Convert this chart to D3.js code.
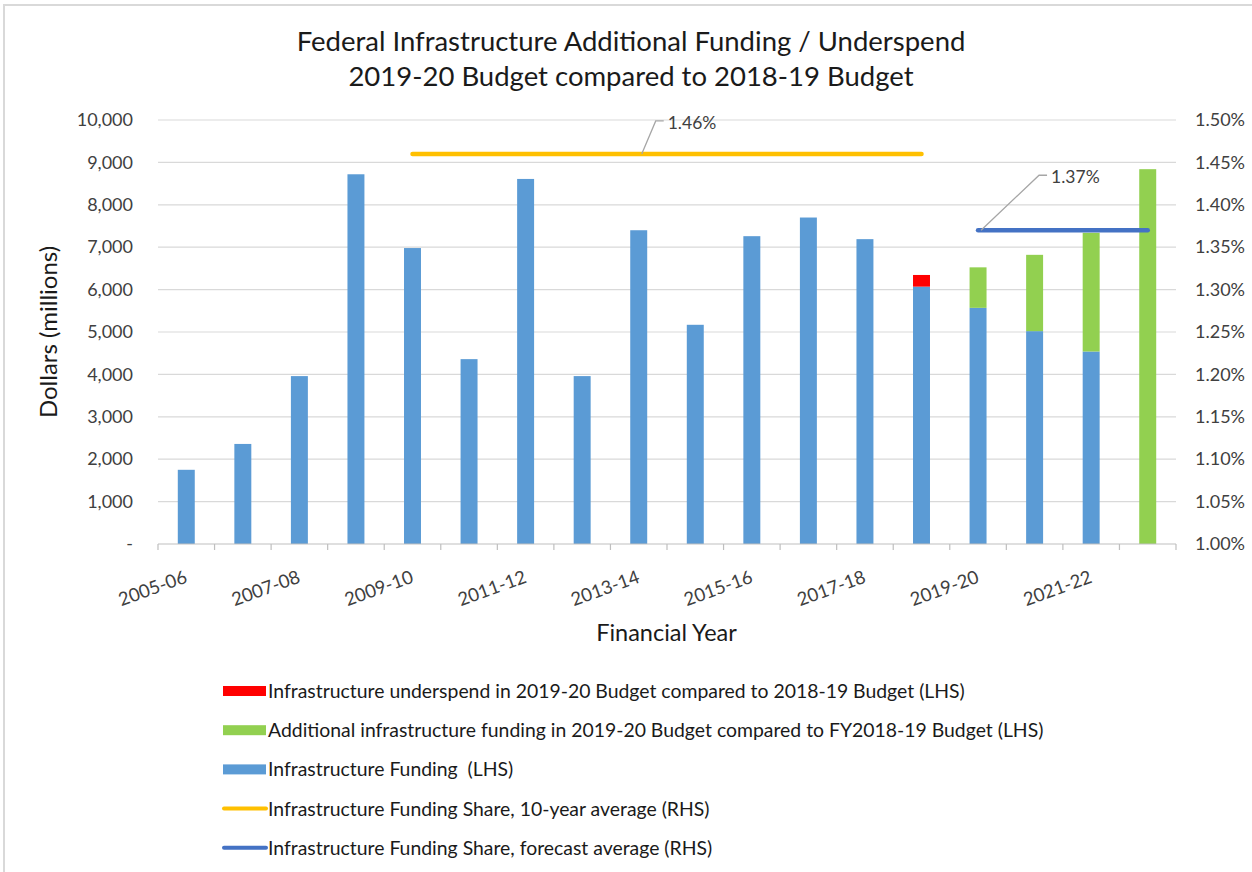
<!DOCTYPE html>
<html>
<head>
<meta charset="utf-8">
<script src="https://cdnjs.cloudflare.com/ajax/libs/d3/7.8.5/d3.min.js"></script>
<style>
  html, body { margin: 0; padding: 0; background: #fff; }
  svg { display: block; font-family: Lato, "Open Sans", sans-serif; }
  text { white-space: pre; }
</style>
</head>
<body>
<svg id="chart" width="1252" height="872"></svg>
<script>
// ---- Data ----
const categories = ["2005-06","2006-07","2007-08","2008-09","2009-10","2010-11","2011-12","2012-13","2013-14","2014-15","2015-16","2016-17","2017-18","2018-19","2019-20","2020-21","2021-22","2022-23"];
const fundingLHS    = [1750, 2360, 3960, 8720, 6980, 4360, 8610, 3960, 7400, 5170, 7260, 7700, 7190, 6070, 5570, 5020, 4540, 0];
const additionalLHS = [0, 0, 0, 0, 0, 0, 0, 0, 0, 0, 0, 0, 0, 0, 955, 1800, 2800, 8840];
const underspendLHS = [0, 0, 0, 0, 0, 0, 0, 0, 0, 0, 0, 0, 0, 275, 0, 0, 0, 0];
const shareTenYearRHS  = [null, null, null, null, 1.46, 1.46, 1.46, 1.46, 1.46, 1.46, 1.46, 1.46, 1.46, 1.46, null, null, null, null];
const shareForecastRHS = [null, null, null, null, null, null, null, null, null, null, null, null, null, null, 1.37, 1.37, 1.37, 1.37];
const xTickLabels = ["2005-06","2007-08","2009-10","2011-12","2013-14","2015-16","2017-18","2019-20","2021-22"];
const leftTicks  = [0, 1000, 2000, 3000, 4000, 5000, 6000, 7000, 8000, 9000, 10000];
const rightTicks = [1.00, 1.05, 1.10, 1.15, 1.20, 1.25, 1.30, 1.35, 1.40, 1.45, 1.50];
const titleLines = ["Federal Infrastructure Additional Funding / Underspend", "2019-20 Budget compared to 2018-19 Budget"];
const legendItems = [
  {label: "Infrastructure underspend in 2019-20 Budget compared to 2018-19 Budget (LHS)", type: "rect", color: "#FF0000"},
  {label: "Additional infrastructure funding in 2019-20 Budget compared to FY2018-19 Budget (LHS)", type: "rect", color: "#92D050"},
  {label: "Infrastructure Funding  (LHS)", type: "rect", color: "#5B9BD5"},
  {label: "Infrastructure Funding Share, 10-year average (RHS)", type: "line", color: "#FFC000"},
  {label: "Infrastructure Funding Share, forecast average (RHS)", type: "line", color: "#4472C4"}
];
const labelTenYear = {text: "1.46%", at: "2013-14", value: 1.46};
const labelForecast = {text: "1.37%", at: "2019-20", value: 1.37};

// ---- Layout ----
const svg = d3.select("#chart");
const plot = {left: 158, right: 1176, top: 120, bottom: 544};
const textColor = "#404040";

// chart border (top & left visible)
svg.append("rect").attr("x", 4).attr("y", 5).attr("width", 1300).attr("height", 900)
  .attr("fill", "none").attr("stroke", "#d9d9d9").attr("stroke-width", 2);

const x = d3.scaleBand().domain(categories).range([plot.left, plot.right]).paddingInner(0.7).paddingOuter(0.35);
const xEdge = d3.scaleBand().domain(categories).range([plot.left, plot.right]);
const yL = d3.scaleLinear().domain([0, 10000]).range([plot.bottom, plot.top]);
const yR = d3.scaleLinear().domain([1.00, 1.50]).range([plot.bottom, plot.top]);

// Title
svg.append("g").selectAll("text").data(titleLines).join("text")
  .attr("x", 631).attr("y", (d, i) => 51 + i * 35)
  .attr("text-anchor", "middle").attr("font-size", 27.5).attr("fill", "#1a1a1a").text(d => d);

// Gridlines
svg.append("g").selectAll("line").data(leftTicks.filter(d => d > 0)).join("line")
  .attr("x1", plot.left).attr("x2", plot.right)
  .attr("y1", d => yL(d)).attr("y2", d => yL(d))
  .attr("stroke", "#d9d9d9").attr("stroke-width", 1.2);

// Left axis
const leftAxis = d3.axisLeft(yL).tickValues(leftTicks).tickSize(0).tickPadding(25)
  .tickFormat(d => d === 0 ? "-" : d3.format(",")(d));
const gL = svg.append("g").attr("transform", `translate(${plot.left},0)`).call(leftAxis);
gL.select(".domain").remove();
gL.selectAll("text").attr("font-size", 18).attr("fill", textColor).attr("font-family", "Lato");

// Right axis
const rightAxis = d3.axisRight(yR).tickValues(rightTicks).tickSize(0).tickPadding(19)
  .tickFormat(d => d3.format(".2f")(d) + "%");
const gR = svg.append("g").attr("transform", `translate(${plot.right},0)`).call(rightAxis);
gR.select(".domain").remove();
gR.selectAll("text").attr("font-size", 18).attr("fill", textColor).attr("font-family", "Lato");

// Bars
const rows = categories.map((c, i) => ({c, f: fundingLHS[i], a: additionalLHS[i], u: underspendLHS[i]}));
const bars = svg.append("g");
bars.selectAll("rect.f").data(rows.filter(d => d.f > 0)).join("rect").attr("class", "f")
  .attr("x", d => x(d.c)).attr("width", x.bandwidth())
  .attr("y", d => yL(d.f)).attr("height", d => yL(0) - yL(d.f)).attr("fill", "#5B9BD5");
bars.selectAll("rect.a").data(rows.filter(d => d.a > 0)).join("rect").attr("class", "a")
  .attr("x", d => x(d.c)).attr("width", x.bandwidth())
  .attr("y", d => yL(d.f + d.a)).attr("height", d => yL(d.f) - yL(d.f + d.a)).attr("fill", "#92D050");
bars.selectAll("rect.u").data(rows.filter(d => d.u > 0)).join("rect").attr("class", "u")
  .attr("x", d => x(d.c)).attr("width", x.bandwidth())
  .attr("y", d => yL(d.f + d.u)).attr("height", d => yL(d.f) - yL(d.f + d.u)).attr("fill", "#FF0000");

// X axis
const gX = svg.append("g").attr("transform", `translate(0,${plot.bottom})`);
gX.append("line").attr("x1", plot.left).attr("x2", plot.right).attr("stroke", "#bfbfbf").attr("stroke-width", 1.2);
const edges = categories.map(c => xEdge(c)).concat([plot.right]);
gX.selectAll("line.tick").data(edges).join("line").attr("class", "tick")
  .attr("x1", d => d).attr("x2", d => d).attr("y1", 0).attr("y2", 6)
  .attr("stroke", "#bfbfbf").attr("stroke-width", 1.2);
gX.selectAll("text").data(xTickLabels).join("text")
  .attr("transform", d => `translate(${x(d) + x.bandwidth() / 2 + 2},38) rotate(-20)`)
  .attr("text-anchor", "end").attr("font-size", 18.5).attr("fill", textColor).text(d => d);

// Axis titles
svg.append("text").attr("x", (plot.left + plot.right) / 2 - 0.5).attr("y", 641)
  .attr("text-anchor", "middle").attr("font-size", 23.5).attr("fill", "#1a1a1a").text("Financial Year");
svg.append("text").attr("transform", `translate(57,${(plot.top + plot.bottom) / 2}) rotate(-90)`)
  .attr("text-anchor", "middle").attr("font-size", 24).attr("fill", "#1a1a1a").text("Dollars (millions)");

// Lines
const cx = c => x(c) + x.bandwidth() / 2;
const lineGen = d3.line().defined(d => d.v !== null).x(d => cx(d.c)).y(d => yR(d.v));
svg.append("path").datum(categories.map((c, i) => ({c, v: shareTenYearRHS[i]})))
  .attr("d", lineGen).attr("fill", "none").attr("stroke", "#FFC000").attr("stroke-width", 4.5).attr("stroke-linecap", "round");
svg.append("path").datum(categories.map((c, i) => ({c, v: shareForecastRHS[i]})))
  .attr("d", lineGen).attr("fill", "none").attr("stroke", "#4472C4").attr("stroke-width", 4.5).attr("stroke-linecap", "round");

// Data labels with leader lines
function leader(lbl, dx1, dy1, dx2) {
  const x0 = cx(lbl.at) + 3, y0 = yR(lbl.value);
  svg.append("path").attr("d", `M${x0},${y0}L${x0 + dx1},${y0 + dy1}L${x0 + dx1 + dx2},${y0 + dy1}`)
    .attr("fill", "none").attr("stroke", "#a6a6a6").attr("stroke-width", 1.3);
  svg.append("text").attr("x", x0 + dx1 + dx2 + 4).attr("y", y0 + dy1 + 8)
    .attr("font-size", 17.5).attr("fill", textColor).text(lbl.text);
}
leader(labelTenYear, 14, -33, 8);
leader(labelForecast, 58, -55, 8);

// Legend
const lg = svg.append("g").attr("transform", "translate(223,691)");
const li = lg.selectAll("g").data(legendItems).join("g").attr("transform", (d, i) => `translate(0,${i * 39.2})`);
li.filter(d => d.type === "rect").append("rect").attr("x", 0).attr("y", -5).attr("width", 43).attr("height", 10).attr("fill", d => d.color);
li.filter(d => d.type === "line").append("line").attr("x1", 1).attr("x2", 43).attr("y1", 0).attr("y2", 0)
  .attr("stroke", d => d.color).attr("stroke-width", 4).attr("stroke-linecap", "round");
li.append("text").attr("x", 45).attr("y", 7).attr("font-size", 19.4).attr("fill", "#1a1a1a").text(d => d.label);
</script>
</body>
</html>
